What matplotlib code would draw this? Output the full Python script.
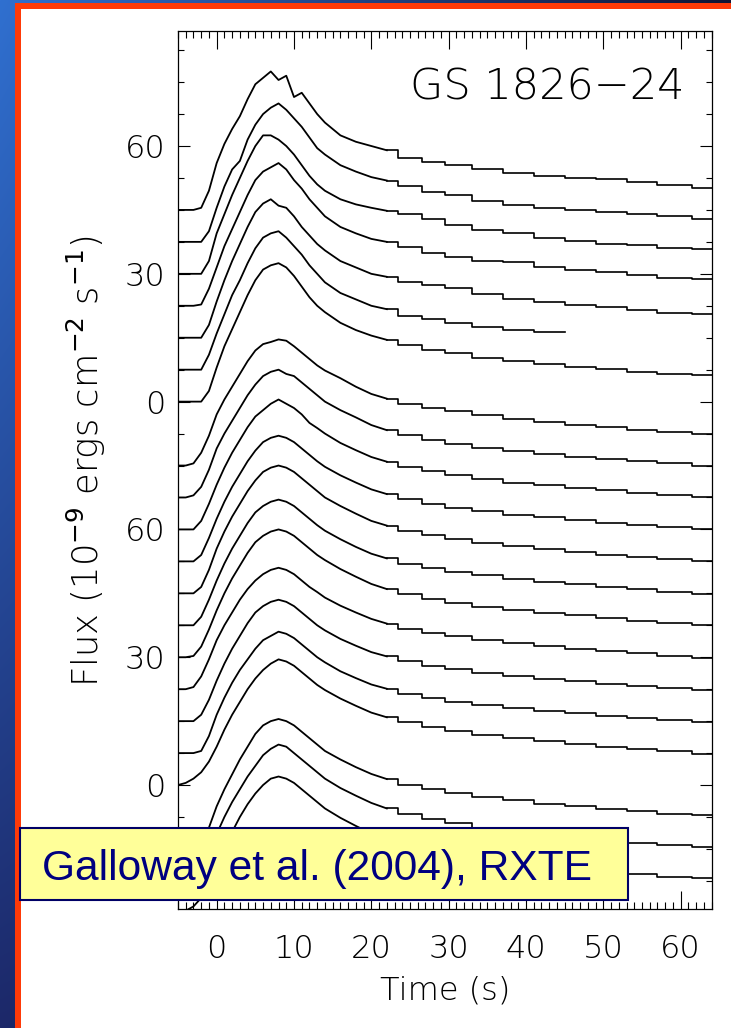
import numpy as np
import matplotlib
matplotlib.use('Agg')
import matplotlib.pyplot as plt
from matplotlib.patches import Rectangle
from matplotlib.ticker import FixedLocator, MultipleLocator

# ---------------- data ----------------
t_grid = [-5, -4, -3, -2, -1, 0, 1, 2, 3, 4, 5, 6, 7, 8, 9, 10, 11, 12, 13, 14,
          16, 18, 20, 22, 25, 28, 31, 35, 39, 43, 47, 51, 55, 59, 64]

nan = float('nan')

# upper panel: 7 bursts, stacked offsets
top_offsets = [135, 127.5, 120, 112.5, 105, 97.5, 90]
top_flux = [
    [0, 0, 0, 0.5, 4.5, 11, 15.5, 19, 22, 26, 29.5, 31, 32.5, 30.5, 31.5, 26.5, 27.5, 25, 22.5, 20.5,
     17.5, 16, 15, 14, 12.3, 11.3, 10.6, 9.6, 8.6, 7.9, 7.5, 7.2, 6.5, 5.8, 5.2],
    [0, 0, 0, 0, 2.5, 8, 13, 17, 19, 24, 27.5, 30, 31.5, 32.5, 31, 29, 27, 24.5, 22, 20.5,
     18, 16.5, 15.2, 14.4, 13, 11.8, 10.9, 9.6, 8.6, 8, 7.4, 7.1, 6.6, 6, 5.4],
    [0, 0, 0, 0, 3, 9.5, 14, 18.5, 22.5, 26.5, 30, 32.5, 32.5, 31.5, 30, 28, 25.5, 23, 21, 19.5,
     17.5, 16.3, 15.5, 14.8, 14, 12.8, 11.5, 10.4, 9.5, 8.4, 7.7, 7, 6.7, 6.1, 5.9],
    [0, 0, 0, 0.3, 4, 9, 14, 18, 22, 26, 29.5, 31.5, 32.5, 33.5, 32, 29.5, 27.5, 25, 23, 21,
     18.5, 17, 15.7, 15, 13.8, 12.3, 11.4, 10.6, 10.2, 9, 8.4, 8, 7.3, 6.6, 6.3],
    [0, 0, 0, 0, 3, 8.5, 13.5, 18, 22, 26, 29.5, 31.5, 32.5, 31, 30.5, 28.5, 26, 24, 22, 20.5,
     18, 16.5, 15, 14.3, 13, 12.4, 11.6, 10.2, 9.2, 8.4, 7.6, 7.2, 6.5, 5.8, 5.6],
    [0, 0, 0, 0, 3.5, 8.5, 13, 17.5, 21, 25, 28.5, 31, 32, 32.5, 31, 29, 27, 24.5, 22.5, 20.5,
     18, 16.5, 15, 14.2, 12.5, 11.8, 11, 10, 9.3, 8.9, nan, nan, nan, nan, nan],
    [0, 0, 0, 0, 2.5, 8, 13, 17, 21, 25, 28.5, 31, 32, 32.5, 31.5, 29.5, 27, 24.5, 22.5, 21,
     18.5, 16.8, 15.5, 14.5, 13.2, 12.2, 11.3, 10.3, 9.5, 8.8, 8.2, 7.6, 7, 6.5, 6.2],
]

# middle panel: 11 bursts
mid_offsets = [75, 67.5, 60, 52.5, 45, 37.5, 30, 22.5, 15, 7.5, 0]
mid_flux = [
    [0, 0, 0.5, 3, 7, 12, 15.5, 18.5, 21.5, 24.5, 27, 28.5, 29, 29.6, 29.3, 28, 26.5, 25, 23.5, 22.3,
     20.5, 18.5, 16.8, 15.7, 14.5, 13.5, 12.7, 11.8, 11, 10.3, 9.6, 9, 8.4, 7.9, 7.4],
    [0, 0, 0.5, 2.5, 6.5, 11.5, 15, 18, 21, 24, 26.5, 28.5, 29.5, 30, 29, 28.5, 27, 25.5, 24, 22.5,
     20.5, 18.8, 17, 15.8, 14.6, 13.5, 12.6, 11.7, 10.9, 10.2, 9.6, 9, 8.5, 8, 7.5],
    [0, 0, 0, 2, 6, 10.5, 14.5, 18, 21, 24, 26.5, 28, 29.5, 30.5, 29.5, 28.5, 27, 25, 23.8, 22.5,
     20.3, 18.6, 17, 15.9, 14.7, 13.6, 12.8, 11.9, 11, 10.4, 9.8, 9.2, 8.6, 8.1, 7.6],
    [0, 0, 0, 1.5, 5.5, 10, 14, 17.5, 20.5, 23.5, 26, 28, 29, 29.5, 29, 28, 26.5, 25, 23.5, 22.2,
     20.2, 18.5, 16.9, 15.8, 14.6, 13.5, 12.6, 11.8, 11, 10.3, 9.7, 9.1, 8.5, 8, 7.5],
    [0, 0, 0, 1.5, 5.5, 10.5, 14.5, 18, 21, 24, 26.5, 28.5, 29.5, 30, 29.5, 28.5, 27, 25.5, 24, 22.5,
     20.5, 18.7, 17, 15.9, 14.7, 13.6, 12.7, 11.8, 11, 10.3, 9.7, 9.1, 8.5, 8, 7.5],
    [0, 0, 0, 2, 6, 10.5, 14.5, 18, 21, 24, 26.5, 28, 29, 29.5, 29, 28, 26.5, 25, 23.5, 22.2,
     20.2, 18.4, 16.8, 15.7, 14.5, 13.5, 12.6, 11.7, 10.9, 10.2, 9.6, 9, 8.4, 7.9, 7.4],
    [0, 0, 0.3, 2.5, 6.5, 11, 15, 18.5, 21.5, 24.5, 27, 28.5, 29.5, 30, 29.5, 28.5, 27, 25.5, 24, 22.8,
     20.7, 18.9, 17.2, 16, 14.8, 13.7, 12.8, 11.9, 11.1, 10.4, 9.8, 9.2, 8.6, 8.1, 7.6],
    [0, 0, 0.5, 3, 7, 11.5, 15, 18, 21, 23.5, 25.5, 27, 28, 28.5, 28, 27, 25.5, 24, 22.8, 21.5,
     19.6, 18, 16.5, 15.4, 14.2, 13.2, 12.4, 11.5, 10.8, 10.1, 9.5, 8.9, 8.4, 7.9, 7.4],
    [0, 0, 0, 1.5, 5, 9.5, 13.5, 17, 20, 23, 25.5, 27, 28, 28.5, 28, 27, 25.5, 24, 22.5, 21.3,
     19.3, 17.7, 16.2, 15.2, 14, 13, 12.2, 11.4, 10.7, 10, 9.4, 8.8, 8.3, 7.8, 7.3],
    [0, 0, 0, 0.5, 4, 9, 13, 16.5, 19.5, 22, 24.5, 26.5, 27.5, 28.5, 28, 27, 25.5, 24, 22.5, 21.3,
     19.2, 17.6, 16.1, 15.1, 13.9, 12.9, 12.1, 11.3, 10.6, 9.9, 9.3, 8.7, 8.2, 7.7, 7.3],
    [0, 0.5, 1.5, 3, 5.5, 9, 13, 16.5, 19.5, 22.5, 25, 27, 28.5, 29.5, 29, 28, 26.5, 25, 23.5, 22.3,
     20.3, 18.6, 17, 15.9, 14.7, 13.6, 12.7, 11.8, 11, 10.3, 9.6, 9, 8.4, 7.9, 7.4],
]

# lower panel: 3 bursts (partly below the frame)
low_offsets = [-15, -22.5, -30]
low_flux = [
    [0, 0, 0, 1, 5, 10, 14, 17.5, 21, 24, 27, 29, 30, 30.5, 30, 29, 27.5, 26, 24.5, 23,
     21, 19.2, 17.6, 16.4, 15.1, 14, 13.1, 12.2, 11.4, 10.6, 10, 9.4, 8.8, 8.3, 8],
    [0, 0, 0.5, 2.5, 6.5, 11, 15, 18.5, 21.5, 24.5, 27, 29.5, 31, 32, 31.5, 30, 28.5, 27, 25.5, 24,
     21.8, 20, 18.3, 17, 15.6, 14.5, 13.5, 12.5, 11.6, 10.8, 10.1, 9.5, 8.9, 8.4, 8],
    [0, 0.5, 1.5, 3.5, 7, 11.5, 15.5, 19, 22.5, 25.5, 28, 30, 31.5, 32, 31.5, 30.5, 29, 27.5, 26, 24.5,
     22.3, 20.4, 18.6, 17.3, 15.9, 14.7, 13.7, 12.7, 11.8, 11, 10.3, 9.6, 9, 8.5, 8.2],
]

y_tick_pos = [0, 30, 60, 90, 120, 150]
y_tick_labels = ['0', '30', '60', '0', '30', '60']
x_ticks = [0, 10, 20, 30, 40, 50, 60]
x_tick_labels = ['0', '10', '20', '30', '40', '50', '60']

# ---------------- figure ----------------
W, H = 731, 1028
fig = plt.figure(figsize=(W / 100, H / 100), dpi=100)

# slide background
bg = fig.add_axes([0, 0, 1, 1])
bg.set_zorder(-5)
yy, xx = np.mgrid[0:1:H * 1j, 0:1:W * 1j]
tl = np.array([48, 112, 208]) / 255
tr = np.array([18, 20, 52]) / 255
bl = np.array([28, 40, 105]) / 255
br = np.array([18, 20, 52]) / 255
img = (tl * ((1 - xx) * (1 - yy))[..., None] + tr * (xx * (1 - yy))[..., None]
       + bl * ((1 - xx) * yy)[..., None] + br * (xx * yy)[..., None])
bg.imshow(img, extent=(0, W, H, 0), aspect='auto', interpolation='bilinear')
bg.add_patch(Rectangle((15, 3), W - 15, H - 3, color='#ff3a08', lw=0))
bg.add_patch(Rectangle((21, 9), W - 21, H - 9, color='white', lw=0))
bg.set_xlim(0, W)
bg.set_ylim(H, 0)
bg.axis('off')

ax = fig.add_axes([178 / W, 1 - 909 / H, (712 - 178) / W, (909 - 31) / H])
ax.set_facecolor('white')

t = np.array(t_grid)
split = t_grid.index(22)
for offs, fluxes in ((top_offsets, top_flux), (mid_offsets, mid_flux), (low_offsets, low_flux)):
    for off, fl in zip(offs, fluxes):
        y = np.array(fl) + off
        # fine-binned rise and peak drawn as a trace, coarse-binned tail as steps
        ax.plot(t[:split + 1], y[:split + 1], color='black', lw=1.3)
        ax.plot(t[split:], y[split:], drawstyle='steps-mid', color='black', lw=1.2)

ax.set_xlim(-5, 64.05)
ax.set_ylim(-29.1, 177.0)

ax.xaxis.set_major_locator(FixedLocator(x_ticks))
ax.set_xticklabels(x_tick_labels)
ax.xaxis.set_minor_locator(MultipleLocator(1))
ax.yaxis.set_major_locator(FixedLocator(y_tick_pos))
ax.set_yticklabels(y_tick_labels)
ax.yaxis.set_minor_locator(MultipleLocator(7.5))

ax.tick_params(which='both', direction='in', top=True, right=True, width=0.8, colors='black')
ax.tick_params(axis='x', which='major', length=13, pad=18, labelsize=23)
ax.tick_params(axis='x', which='minor', length=5)
ax.tick_params(axis='y', which='major', length=8.6, pad=9, labelsize=23)
ax.tick_params(axis='y', which='minor', length=4.3)
for lab in ax.get_xticklabels() + ax.get_yticklabels():
    lab.set_fontweight('light')
for s in ax.spines.values():
    s.set_linewidth(0.9)

fig.text(86 / W, 1 - 461 / H, r'Flux (10$^{-9}$ ergs cm$^{-2}$ s$^{-1}$)', rotation=90,
         ha='center', va='center', fontsize=25.5, fontweight='light')
fig.text(445 / W, 1 - 990 / H, 'Time (s)', ha='center', va='center', fontsize=23, fontweight='light')
fig.text(685 / W, 1 - 100 / H, 'GS 1826\u221224', ha='right', va='baseline', fontsize=31,
         fontweight='light')

box = Rectangle((20 / W, 1 - 900 / H), 608 / W, 72 / H, transform=fig.transFigure,
                facecolor='#ffff99', edgecolor='#000066', lw=1.5, zorder=10)
fig.add_artist(box)
fig.text(42 / W, 1 - 880 / H, 'Galloway et al. (2004), RXTE', ha='left', va='baseline',
         fontsize=30.6, color='#000080', family='Liberation Sans', zorder=11)

fig.savefig('out.png', dpi=100)
